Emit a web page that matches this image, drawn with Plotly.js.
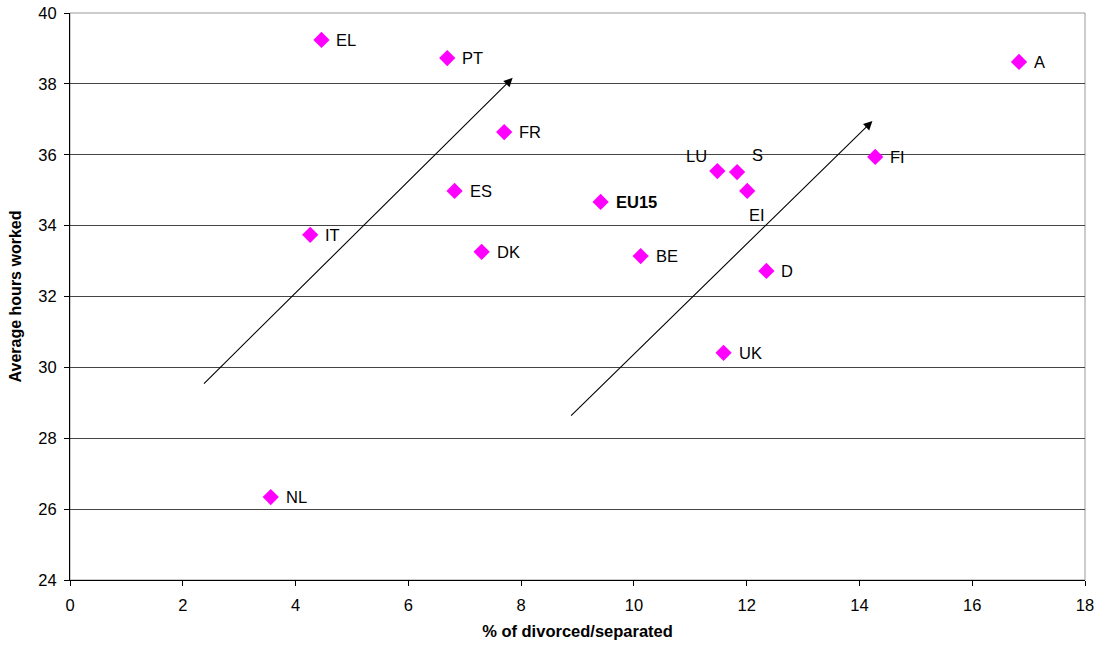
<!DOCTYPE html>
<html>
<head>
<meta charset="utf-8">
<script src="https://cdn.plot.ly/plotly-3.0.1.min.js"></script>
<style>
  html, body { margin: 0; padding: 0; background: #fff; }
  #chart { width: 1098px; height: 648px; }
</style>
</head>
<body>
<div id="chart"></div>
<script>
// Country codes, share divorced/separated (%) and average weekly hours worked
const countries = ["EL", "PT", "A", "FR", "LU", "S", "EI", "FI", "ES", "<b>EU15</b>", "IT", "DK", "BE", "D", "UK", "NL"];
const divorced = [4.46, 6.69, 16.83, 7.70, 11.48, 11.83, 12.01, 14.28, 6.82, 9.41, 4.26, 7.30, 10.12, 12.35, 11.59, 3.56];
const hoursWorked = [39.24, 38.73, 38.62, 36.64, 35.54, 35.51, 34.98, 35.94, 34.98, 34.67, 33.74, 33.26, 33.14, 32.72, 30.41, 26.34];
const labelPositions = ["right", "right", "right", "right", "upLeft", "upRight", "below",
  "right", "right", "right", "right", "right", "right", "right", "right", "right"];

// Trend arrows: [x0, y0, x1, y1] in data units
const trendArrows = [
  [2.35, 29.50, 7.85, 38.17],
  [8.86, 28.60, 14.23, 36.95]
];

const fontFamily = "Liberation Sans, Arial, sans-serif";

// Pixel offsets of a label relative to its marker
const placement = {
  right:   { xanchor: "left",   yanchor: "middle", xshift: 13,  yshift: 0 },
  upLeft:  { xanchor: "center", yanchor: "middle", xshift: -21, yshift: 15 },
  upRight: { xanchor: "center", yanchor: "middle", xshift: 20,  yshift: 17 },
  below:   { xanchor: "center", yanchor: "middle", xshift: 10,  yshift: -24 }
};

const trace = {
  type: "scatter",
  mode: "markers",
  x: divorced,
  y: hoursWorked,
  text: countries,
  marker: { symbol: "diamond", size: 12.5, color: "#ff00ff", line: { width: 0 } },
  cliponaxis: false,
  hoverinfo: "x+y+text"
};

const labelNotes = countries.map((c, i) => Object.assign({
  x: divorced[i], y: hoursWorked[i], xref: "x", yref: "y",
  text: c, showarrow: false,
  font: { family: fontFamily, size: 16.5, color: "#000" }
}, placement[labelPositions[i]]));

const arrowNotes = trendArrows.map(a => ({
  x: a[2], y: a[3], ax: a[0], ay: a[1],
  xref: "x", yref: "y", axref: "x", ayref: "y",
  text: "", showarrow: true, arrowhead: 2, arrowsize: 1.6, arrowwidth: 1.1, arrowcolor: "#000"
}));

const layout = {
  width: 1098, height: 648,
  margin: { l: 69.5, r: 13, t: 13, b: 68 },
  paper_bgcolor: "#fff", plot_bgcolor: "#fff",
  showlegend: false,
  font: { family: fontFamily, size: 16, color: "#000" },
  xaxis: {
    range: [0, 18], dtick: 2, tick0: 0,
    showgrid: false, zeroline: false,
    showline: true, linecolor: "#000", linewidth: 1,
    ticks: "outside", ticklen: 5, tickcolor: "#000",
    ticklabelstandoff: 5,
    tickfont: { family: fontFamily, size: 16.5 },
    title: { text: "<b>% of divorced/separated</b>", font: { family: fontFamily, size: 16.5 }, standoff: 12 }
  },
  yaxis: {
    range: [24, 40], dtick: 2, tick0: 24,
    showgrid: true, gridcolor: "#444", gridwidth: 1,
    zeroline: false,
    showline: true, linecolor: "#000", linewidth: 1,
    ticks: "outside", ticklen: 5, tickcolor: "#000",
    ticklabelstandoff: 4,
    tickfont: { family: fontFamily, size: 16.5 },
    title: { text: "<b>Average hours worked</b>", font: { family: fontFamily, size: 16 }, standoff: 12 }
  },
  shapes: [{
    type: "rect", xref: "paper", yref: "paper", x0: 0, x1: 1, y0: 0, y1: 1,
    line: { color: "#999", width: 1 }, layer: "below"
  }],
  annotations: labelNotes.concat(arrowNotes)
};

Plotly.newPlot("chart", [trace], layout, { displayModeBar: false, staticPlot: true });
</script>
</body>
</html>
